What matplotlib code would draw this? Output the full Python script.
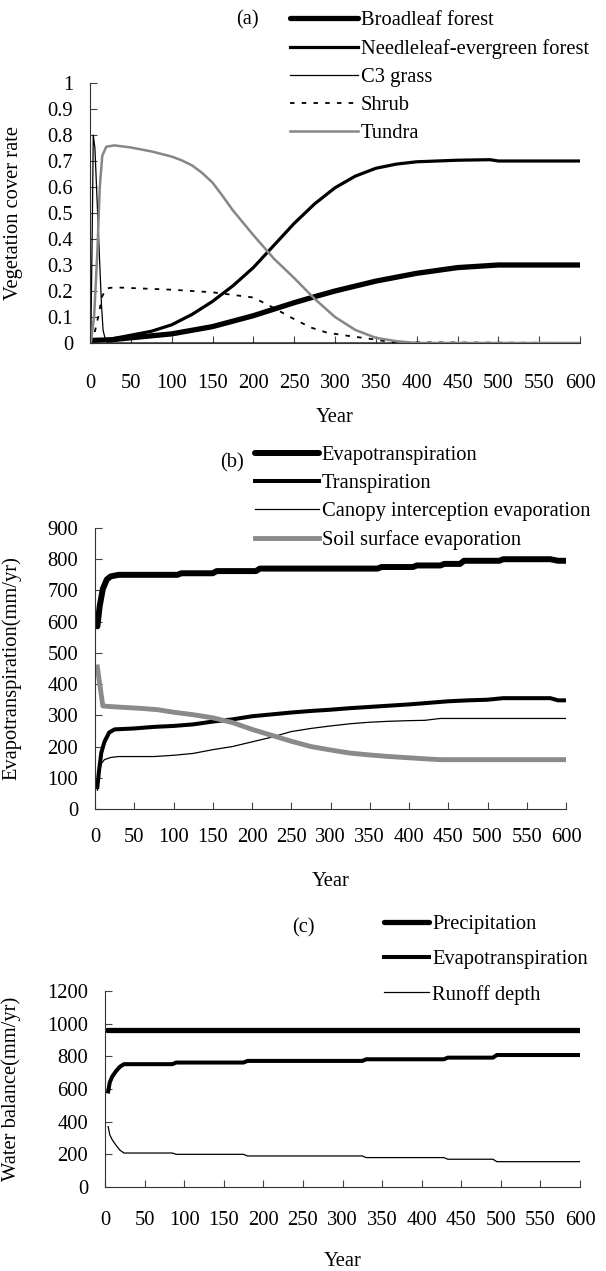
import matplotlib
matplotlib.use('Agg')
import matplotlib.pyplot as plt
import numpy as np

plt.rcParams['font.family'] = ['Liberation Serif', 'DejaVu Serif']
plt.rcParams['font.size'] = 14.8

# ---- panel (a): vegetation cover rate ----
yr_broad = [1, 25, 50, 100, 150, 200, 250, 275, 300, 350, 400, 450, 500, 600]
broadleaf = [0.01, 0.012, 0.02, 0.035, 0.063, 0.105, 0.155, 0.178, 0.2, 0.238, 0.268, 0.29, 0.30, 0.30]

yr_needle = [1, 25, 50, 75, 100, 125, 150, 175, 200, 225, 250, 275, 300, 325, 350, 375, 400, 450, 490, 500, 600]
needleleaf = [0.01, 0.015, 0.03, 0.045, 0.07, 0.11, 0.16, 0.22, 0.29, 0.375, 0.46, 0.535, 0.597, 0.642, 0.672,
              0.688, 0.697, 0.703, 0.705, 0.70, 0.70]

yr_grass = [1, 3, 4, 6, 8, 10, 12, 14, 16, 19, 22, 600]
c3_grass = [0.0, 0.5, 0.8, 0.75, 0.6, 0.45, 0.3, 0.15, 0.05, 0.01, 0.0, 0.0]

yr_shrub = [1, 5, 10, 15, 20, 30, 100, 150, 200, 225, 245, 270, 290, 315, 345, 370, 600]
shrub = [0.0, 0.03, 0.1, 0.18, 0.21, 0.214, 0.205, 0.195, 0.175, 0.135, 0.1, 0.06, 0.04, 0.028, 0.015, 0.003, 0.0]

yr_tundra = [1, 5, 9, 12, 15, 20, 30, 50, 75, 100, 112, 125, 137, 150, 162, 175, 200, 225, 250, 275, 300, 325,
             350, 375, 400, 600]
tundra = [0.0, 0.1, 0.35, 0.6, 0.72, 0.755, 0.76, 0.752, 0.737, 0.717, 0.703, 0.683, 0.655, 0.617, 0.567, 0.51,
          0.415, 0.325, 0.25, 0.17, 0.10, 0.05, 0.02, 0.007, 0.0, 0.0]

# ---- panel (b): evapotranspiration components (mm/yr) ----
yr_et_b = [3, 6, 10, 15, 20, 30, 105, 110, 150, 155, 205, 210, 360, 365, 405, 410, 440, 445, 465, 470,
           515, 520, 580, 590, 600]
et_b = [585, 650, 705, 735, 745, 750, 750, 755, 755, 762, 762, 770, 770, 775, 775, 780, 780, 785, 785, 795,
        795, 800, 800, 795, 795]

yr_trans = [3, 5, 8, 12, 18, 25, 50, 75, 100, 125, 150, 175, 200, 225, 250, 275, 300, 325, 350, 375, 400,
            425, 450, 475, 500, 520, 580, 590, 600]
transpiration = [70, 120, 180, 215, 245, 255, 258, 263, 266, 271, 280, 287, 297, 303, 309, 314, 318, 323, 327,
                 331, 335, 340, 345, 348, 350, 355, 355, 348, 348]

yr_canopy = [3, 5, 8, 12, 20, 30, 75, 100, 125, 150, 175, 200, 225, 250, 275, 300, 325, 350, 375, 400, 420,
             440, 600]
canopy = [60, 110, 145, 158, 165, 168, 168, 172, 178, 190, 200, 215, 230, 248, 258, 266, 273, 278, 281, 283,
          284, 290, 290]

yr_soil = [3, 6, 10, 20, 60, 80, 100, 125, 150, 175, 200, 225, 250, 275, 300, 325, 350, 375, 400, 425, 440, 600]
soil = [455, 400, 330, 328, 322, 318, 310, 302, 292, 277, 255, 236, 217, 200, 189, 179, 173, 168, 164, 160,
        158, 158]

# ---- panel (c): water balance (mm/yr) ----
yr_precip = [3, 600]
precip = [960, 960]

yr_c = [4, 6, 9, 14, 19, 24, 85, 90, 175, 180, 325, 330, 428, 433, 490, 495, 600]
et_c = [585, 640, 675, 710, 737, 752, 752, 762, 762, 772, 772, 782, 782, 792, 792, 808, 808]
runoff = [370, 320, 290, 255, 225, 208, 208, 200, 200, 190, 190, 180, 180, 170, 170, 155, 155]

W, H = 606, 1271
fig = plt.figure(figsize=(W / 100, H / 100), dpi=100)


def px_axes(left, right, top, bottom):
    return fig.add_axes([left / W, 1 - bottom / H, (right - left) / W, (bottom - top) / H])


def style(ax, ymax, ystep, ylabel, xpad, labelpad, ylab_x):
    ax.set_xlim(0, 600)
    ax.set_ylim(0, ymax)
    ax.set_xticks(np.arange(0, 601, 50))
    ax.set_yticks(np.arange(0, ymax + ystep / 2, ystep))
    ax.yaxis.set_major_formatter(plt.FormatStrFormatter('%g'))
    for s in ['top', 'right']:
        ax.spines[s].set_visible(False)
    for s in ['left', 'bottom']:
        ax.spines[s].set_color('#333333')
        ax.spines[s].set_linewidth(0.8)
    ax.tick_params(direction='in', length=5, width=0.8, color='#444444')
    ax.tick_params(axis='y', pad=12)
    ax.tick_params(axis='x', pad=xpad)
    ax.set_xlabel('Year', labelpad=labelpad)
    ax.set_ylabel(ylabel)
    bb = ax.get_position()
    ax.yaxis.set_label_coords((ylab_x / W - bb.x0) / bb.width, 0.5)
    ax.patch.set_alpha(0)


def legend(ax, x, y, hlen, spacing):
    ax.legend(loc='upper left', bbox_to_anchor=(x / W, 1 - y / H), bbox_transform=fig.transFigure,
              frameon=False, borderpad=0, borderaxespad=0, handlelength=hlen, handletextpad=0.15,
              labelspacing=spacing)


# (a)
ax = px_axes(90, 580, 83, 343)
ax.plot(yr_broad, broadleaf, color='black', lw=3.8, label='Broadleaf forest', solid_capstyle='round')
ax.plot(yr_needle, needleleaf, color='black', lw=2.3, label='Needleleaf-evergreen forest')
ax.plot(yr_grass, c3_grass, color='black', lw=0.9, label='C3 grass')
ax.plot(yr_shrub, shrub, color='black', lw=1.3, ls=(0, (2.5, 4)), label='Shrub')
ax.plot(yr_tundra, tundra, color='#868686', lw=1.8, label='Tundra')
style(ax, 1.0, 0.1, 'Vegetation cover rate', 22, 11, 23)
legend(ax, 290, 11, 3.3, 0.42)
fig.text(247 / W, 1 - 20 / H, '(a)', ha='center', va='center')

# (b)
ax = px_axes(95, 566, 528, 809)
ax.plot(yr_et_b, et_b, color='black', lw=4.3, label='Evapotranspiration', solid_capstyle='round')
ax.plot(yr_trans, transpiration, color='black', lw=2.9, label='Transpiration')
ax.plot(yr_canopy, canopy, color='black', lw=0.9, label='Canopy interception evaporation')
ax.plot(yr_soil, soil, color='#8a8a8a', lw=3.5, label='Soil surface evaporation')
style(ax, 900, 100, 'Evapotranspiration(mm/yr)', 14, 18, 21)
legend(ax, 255, 446, 3.1, 0.42)
fig.text(232 / W, 1 - 463 / H, '(b)', ha='center', va='center')

# (c)
ax = px_axes(105, 580, 991, 1187)
ax.plot(yr_precip, precip, color='black', lw=3.8, label='Precipitation', solid_capstyle='round')
ax.plot(yr_c, et_c, color='black', lw=2.9, label='Evapotranspiration')
ax.plot(yr_c, runoff, color='black', lw=0.9, label='Runoff depth')
style(ax, 1200, 200, 'Water balance(mm/yr)', 17, 16, 21)
legend(ax, 384, 915, 2.2, 0.75)
fig.text(303 / W, 1 - 928 / H, '(c)', ha='center', va='center')

fig.savefig('out.png', dpi=100)
